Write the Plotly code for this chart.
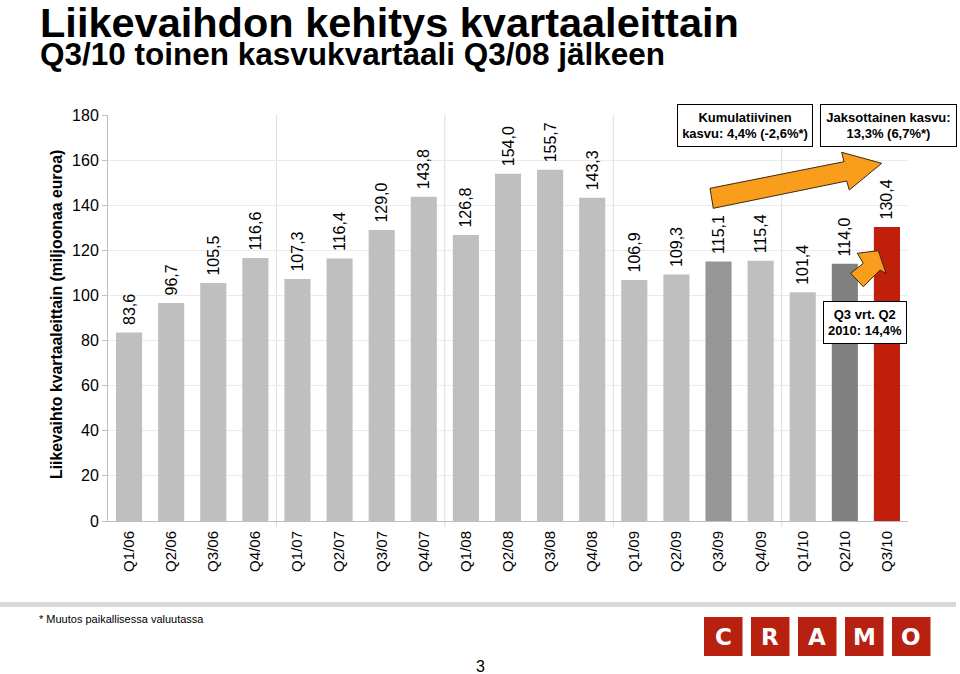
import plotly.graph_objects as go

# ---- data ----
quarters = ["Q1/06", "Q2/06", "Q3/06", "Q4/06", "Q1/07", "Q2/07", "Q3/07", "Q4/07",
            "Q1/08", "Q2/08", "Q3/08", "Q4/08", "Q1/09", "Q2/09", "Q3/09", "Q4/09",
            "Q1/10", "Q2/10", "Q3/10"]
revenue = [83.6, 96.7, 105.5, 116.6, 107.3, 116.4, 129.0, 143.8,
           126.8, 154.0, 155.7, 143.3, 106.9, 109.3, 115.1, 115.4,
           101.4, 114.0, 130.4]
# leading no-break space gives the gap between bar top and its rotated label
value_labels = ["\u00a0" + f"{v:.1f}".replace(".", ",") for v in revenue]

# ---- styles ----
LIGHT, MID, DARK, RED = "#BFBFBF", "#969696", "#808080", "#C0200A"
bar_colors = [LIGHT] * len(quarters)
bar_colors[quarters.index("Q3/09")] = MID
bar_colors[quarters.index("Q2/10")] = DARK
bar_colors[quarters.index("Q3/10")] = RED

W, H = 960, 674
L, R, T, B = 108, 908, 115, 521
FONT = "Liberation Sans, Arial, sans-serif"
NARROW = "Liberation Sans Narrow, Arial Narrow, Liberation Sans, sans-serif"


def px(x):
    return (x - L) / (R - L)


def py(y):
    return (B - y) / (B - T)


fig = go.Figure(go.Bar(
    x=quarters, y=revenue, marker=dict(color=bar_colors, line=dict(width=0)),
    text=value_labels, textposition="outside", textangle=-90,
    textfont=dict(family=FONT, size=16, color="black"),
    constraintext="none", cliponaxis=False, width=0.62,
))

shapes = []
# year separator lines
for i in range(1, len(quarters)):
    if quarters[i].split("/")[1] != quarters[i - 1].split("/")[1]:
        shapes.append(dict(type="line", xref="x", yref="paper", x0=i - 0.5, x1=i - 0.5,
                           y0=-0.015, y1=1, line=dict(color="#DCDCDC", width=1), layer="below"))


def poly(points):
    return "M " + " L ".join(f"{px(a):.5f},{py(b):.5f}" for a, b in points) + " Z"


big_arrow = [(710, 188.3), (844, 161.7), (841.7, 152.3), (881.7, 163.3),
             (849.3, 190), (846.7, 181), (713.3, 208.3)]
small_arrow = [(850.7, 273.3), (863.3, 263.3), (857.3, 253.3), (878.3, 250.7),
               (886, 273.3), (880, 270), (863.3, 286.7)]
for pts in (big_arrow, small_arrow):
    shapes.append(dict(type="path", xref="paper", yref="paper", path=poly(pts),
                       fillcolor="#F99D1C", line=dict(color="#3A2A10", width=1)))

# footer band
shapes.append(dict(type="rect", xref="paper", yref="paper", x0=px(0), x1=px(956),
                   y0=py(607), y1=py(602), fillcolor="#D9D9D9", line=dict(width=0)))

annotations = []
logo_letters = ["C", "R", "A", "M", "O"]
for i, ch in enumerate(logo_letters):
    x0 = 704 + i * 47
    shapes.append(dict(type="rect", xref="paper", yref="paper", x0=px(x0), x1=px(x0 + 38.5),
                       y0=py(656), y1=py(617), fillcolor="#B8200F", line=dict(width=0)))
    annotations.append(dict(xref="paper", yref="paper", x=px(x0 + 19.25), y=py(636.5),
                            text=f"<b>{ch}</b>", showarrow=False, xanchor="center", yanchor="middle",
                            font=dict(family="DejaVu Sans, sans-serif", size=23, color="white")))

# titles
annotations.append(dict(xref="paper", yref="paper", x=px(38), y=py(-3), xanchor="left", yanchor="top",
                        text="<b>Liikevaihdon kehitys kvartaaleittain</b>", showarrow=False,
                        font=dict(family=FONT, size=41.5, color="black")))
annotations.append(dict(xref="paper", yref="paper", x=px(38), y=py(34), xanchor="left", yanchor="top",
                        text="<b>Q3/10 toinen kasvukvartaali Q3/08 jälkeen</b>", showarrow=False,
                        font=dict(family=FONT, size=31.5, color="black")))
# y-axis title
annotations.append(dict(xref="paper", yref="paper", x=px(56), y=py(315), xanchor="center", yanchor="middle",
                        text="<b>Liikevaihto kvartaaleittain (miljoonaa euroa)</b>", showarrow=False,
                        textangle=-90, font=dict(family=FONT, size=15.8, color="black")))
# boxes
boxes = [
    ("<b>Kumulatiivinen<br>kasvu: 4,4% (-2,6%*)</b>", 745, 125.5, 134),
    ("<b>Jaksottainen kasvu:<br>13,3% (6,7%*)</b>", 888.5, 125.5, 135),
    ("<b>Q3 vrt. Q2<br>2010: 14,4%</b>", 865, 322, 82),
]
for txt, cx, cy, w in boxes:
    annotations.append(dict(xref="paper", yref="paper", x=px(cx), y=py(cy), xanchor="center",
                            yanchor="middle", text=txt, showarrow=False, width=w, height=41,
                            bgcolor="white", bordercolor="black", borderwidth=1, borderpad=0,
                            font=dict(family=FONT, size=13, color="black")))
# footer texts
annotations.append(dict(xref="paper", yref="paper", x=px(37), y=py(619), xanchor="left", yanchor="middle",
                        text="* Muutos paikallisessa valuutassa", showarrow=False,
                        font=dict(family=NARROW, size=11, color="black")))
annotations.append(dict(xref="paper", yref="paper", x=px(480), y=py(666), xanchor="center", yanchor="middle",
                        text="3", showarrow=False, font=dict(family=NARROW, size=16, color="black")))

fig.update_layout(
    width=W, height=H, margin=dict(l=L, r=W - R, t=T, b=H - B, pad=0),
    paper_bgcolor="white", plot_bgcolor="white", showlegend=False,
    shapes=shapes, annotations=annotations,
    font=dict(family=FONT, color="black"),
    xaxis=dict(type="category", showline=True, linecolor="#BFBFBF", linewidth=1, ticks="",
               tickangle=-90, tickfont=dict(family=FONT, size=15, color="black"),
               ticklabelstandoff=3,
               showgrid=False, range=[-0.5, len(quarters) - 0.5]),
    yaxis=dict(range=[0, 180], dtick=20, showline=True, linecolor="#BFBFBF", linewidth=1,
               ticks="outside", ticklen=5, tickcolor="#BFBFBF", showgrid=True,
               gridcolor="#EBEBEB", zeroline=False,
               tickfont=dict(family=FONT, size=16, color="black")),
)

fig.write_html("out.html", config={"displayModeBar": False},
               post_script="document.body.style.margin='0';document.body.style.overflow='hidden';")
